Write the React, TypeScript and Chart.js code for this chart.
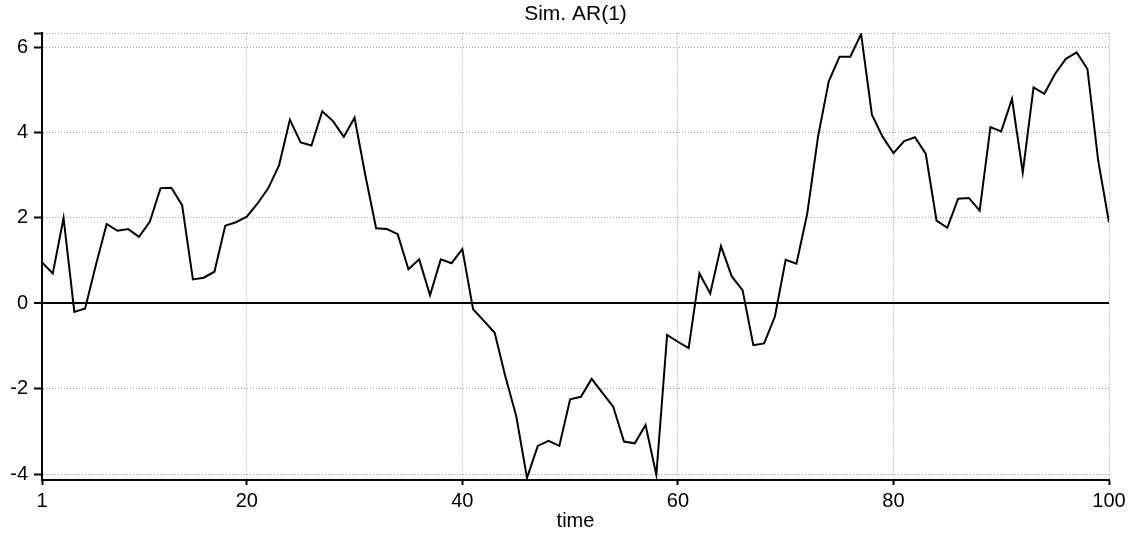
import React, { useEffect, useRef } from "react";
import { Chart, registerables } from "chart.js";

Chart.register(...registerables);

const chartTitle = "Sim. AR(1)";
const xAxisTitle = "time";

// Simulated AR(1) series (t = 1..100)
const values = [
  0.96, 0.7, 2.0, -0.2, -0.12, 0.9, 1.86, 1.7, 1.74, 1.56,
  1.91, 2.7, 2.71, 2.3, 0.56, 0.6, 0.74, 1.82, 1.9, 2.03,
  2.34, 2.7, 3.24, 4.3, 3.77, 3.7, 4.5, 4.27, 3.9, 4.35,
  3.0, 1.76, 1.74, 1.62, 0.8, 1.03, 0.19, 1.03, 0.94, 1.27,
  -0.14, -0.41, -0.69, -1.72, -2.64, -4.09, -3.34, -3.22, -3.34, -2.25,
  -2.19, -1.77, -2.1, -2.42, -3.24, -3.28, -2.85, -4.02, -0.74, -0.9,
  -1.05, 0.7, 0.23, 1.34, 0.63, 0.31, -0.98, -0.94, -0.31, 1.02,
  0.93, 2.1, 3.9, 5.2, 5.78, 5.78, 6.31, 4.42, 3.9, 3.52,
  3.8, 3.89, 3.5, 1.94, 1.77, 2.45, 2.47, 2.17, 4.13, 4.03,
  4.79, 3.07, 5.06, 4.91, 5.38, 5.73, 5.88, 5.49, 3.34, 1.9,
];
const time = values.map((_, i) => i + 1);

const xTicks = [1, 20, 40, 60, 80, 100];
const yTicks = [-4, -2, 0, 2, 4, 6];
const xMin = 1;
const xMax = 100;
const yMin = -4.14;
const yMax = 6.33;

const FONT = "'Liberation Sans', Arial, sans-serif";

export default function App() {
  const ref = useRef<HTMLCanvasElement>(null);

  useEffect(() => {
    const canvas = ref.current;
    if (!canvas) return;
    const chart = new Chart(canvas, {
      type: "line",
      data: {
        datasets: [
          {
            data: time.map((t, i) => ({ x: t, y: values[i] })),
            borderColor: "#000",
            borderWidth: 2,
            pointRadius: 0,
            tension: 0,
            fill: false,
          },
        ],
      },
      options: {
        responsive: false,
        animation: false,
        devicePixelRatio: 1,
        layout: { padding: { left: 0, right: 21, top: 0, bottom: 0 } },
        plugins: {
          legend: { display: false },
          tooltip: { enabled: false },
          title: {
            display: true,
            fullSize: false,
            text: chartTitle,
            color: "#000",
            font: { family: FONT, size: 21, weight: "normal", lineHeight: 1.2 },
            padding: { top: 2, bottom: 6 },
          },
        },
        scales: {
          x: {
            type: "linear",
            min: xMin,
            max: xMax,
            afterBuildTicks: (s: any) => {
              s.ticks = xTicks.map((v) => ({ value: v }));
            },
            afterFit: (s: any) => {
              s.height = 53;
            },
            ticks: {
              autoSkip: false,
              maxRotation: 0,
              color: "#000",
              padding: 4,
              font: { family: FONT, size: 20, lineHeight: 1.2 },
              callback: (v: any) => String(v),
            },
            grid: {
              color: "#a0a0a0",
              lineWidth: 1,
              tickColor: "#000",
              tickLength: 5,
              tickWidth: 2,
            },
            border: { display: true, color: "#000", width: 2, dash: [1, 2] },
            title: {
              display: true,
              text: xAxisTitle,
              color: "#000",
              font: { family: FONT, size: 20, lineHeight: 1.2 },
              padding: { top: 0, bottom: 0 },
            },
          },
          y: {
            type: "linear",
            min: yMin,
            max: yMax,
            afterBuildTicks: (s: any) => {
              s.ticks = [...yTicks, yMax].map((v) => ({ value: v }));
            },
            afterFit: (s: any) => {
              s.width = 42;
            },
            ticks: {
              autoSkip: false,
              color: "#000",
              padding: 6,
              font: { family: FONT, size: 20, lineHeight: 1.2 },
              callback: (v: any) => (yTicks.includes(v) ? String(v) : ""),
            },
            grid: {
              color: (ctx: any) => (ctx.tick && ctx.tick.value === 0 ? "#000" : "#a0a0a0"),
              lineWidth: (ctx: any) => (ctx.tick && ctx.tick.value === 0 ? 2 : 1),
              tickColor: "#000",
              tickLength: 8,
              tickWidth: 2,
            },
            border: {
              display: true,
              color: "#000",
              width: 2,
              dash: (ctx: any) => (ctx.tick && ctx.tick.value === 0 ? [] : [1, 2]),
            },
          },
        },
      },
    });
    return () => chart.destroy();
  }, []);

  return (
    <div
      style={{
        position: "fixed",
        left: 0,
        top: 0,
        width: 1130,
        height: 533,
        background: "#fff",
      }}
    >
      <canvas ref={ref} width={1130} height={533} />
    </div>
  );
}
